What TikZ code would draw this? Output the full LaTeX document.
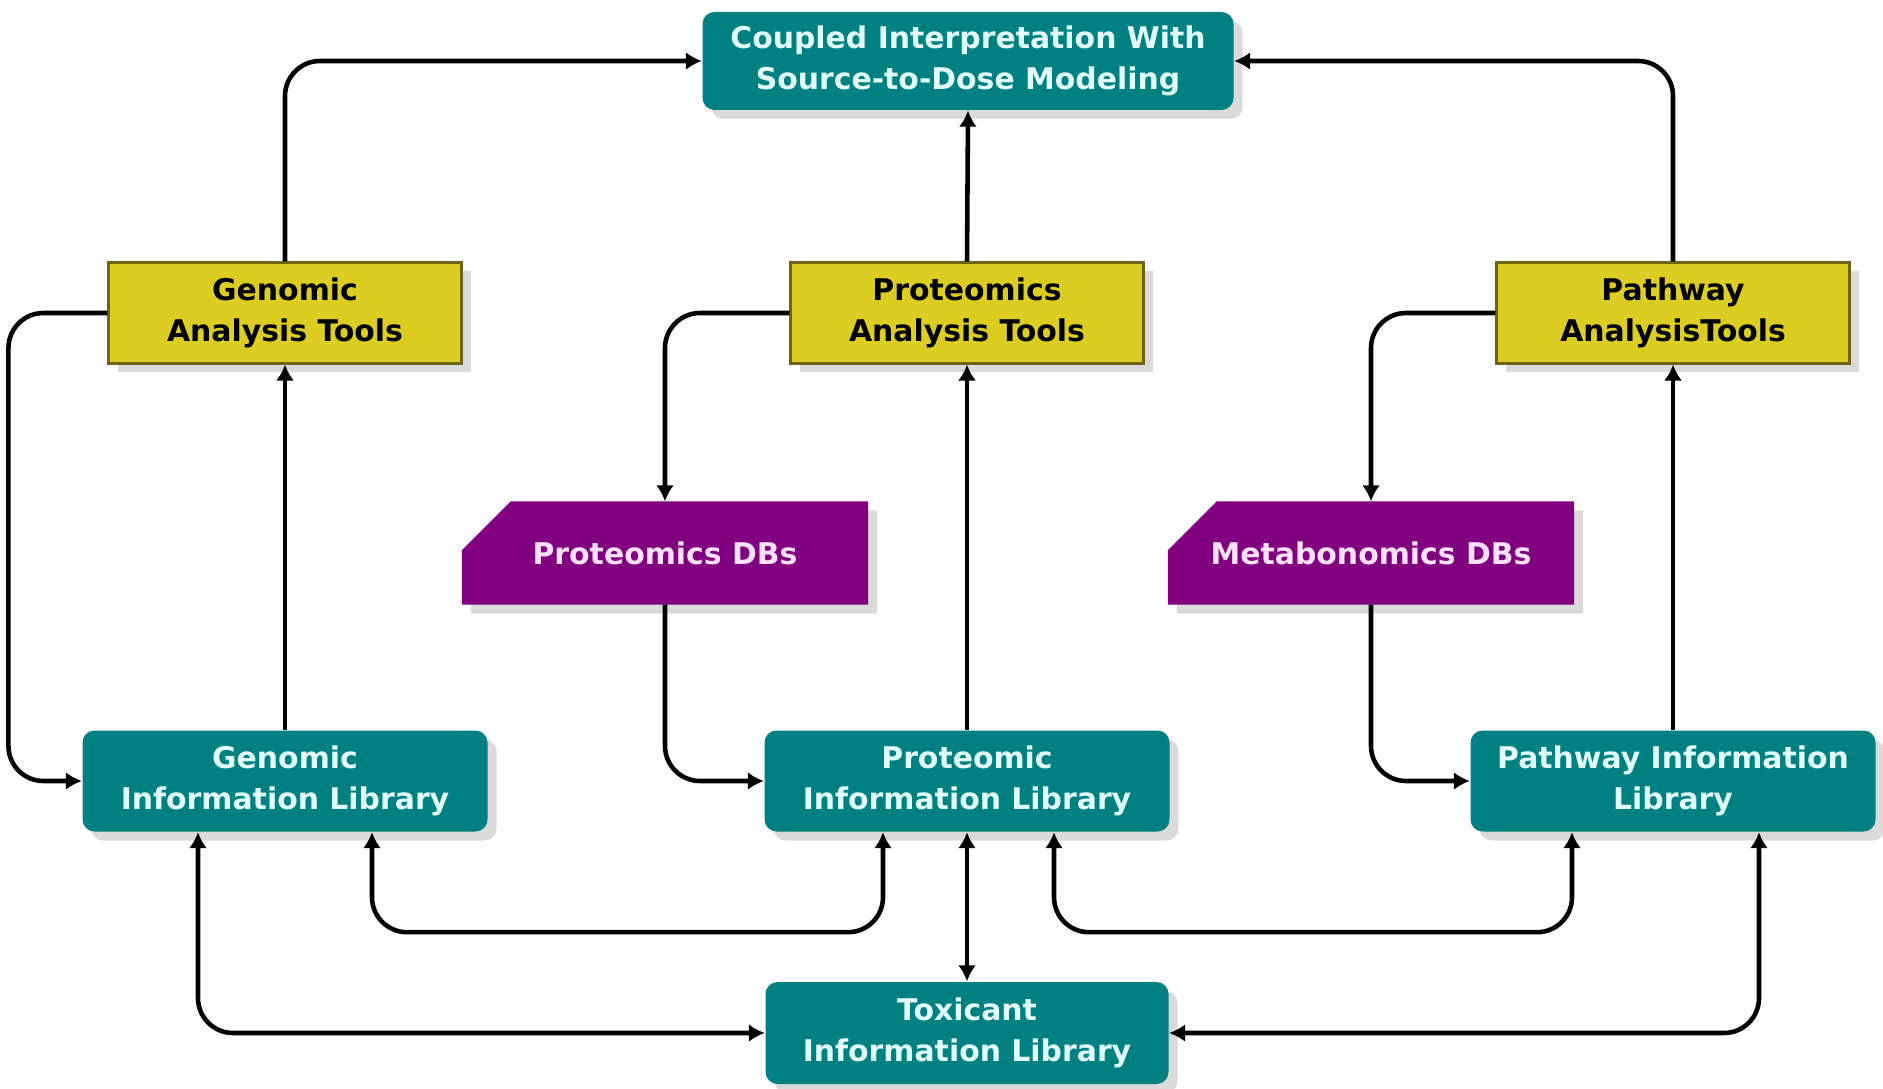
\documentclass[tikz,border=0pt]{standalone}
\usepackage{fontspec}
\setmainfont{DejaVu Sans}
\usepackage{tikz}
\usetikzlibrary{arrows.meta, shadows, backgrounds}
\definecolor{libteal}{RGB}{0, 128, 128}
\definecolor{libtext}{RGB}{225, 255, 255}
\definecolor{toolyellow}{RGB}{220, 205, 35}
\definecolor{tooledge}{RGB}{110, 100, 20}
\definecolor{dbpurple}{RGB}{128, 0, 128}
\definecolor{dbtext}{RGB}{255, 225, 255}
\definecolor{shadowgray}{RGB}{218, 218, 218}

\begin{document}
\begin{tikzpicture}[
    lib/.style={fill=libteal, text=libtext, minimum width=4.05cm, minimum height=1.01cm, align=center, font=\fontsize{8.5}{11.6}\selectfont\bfseries, rounded corners=1.2mm, drop shadow={shadow xshift=0.9mm, shadow yshift=-0.9mm, fill=shadowgray, opacity=1}},
    tool/.style={draw=tooledge, line width=0.6pt, fill=toolyellow, text=black, minimum width=3.53cm, minimum height=1.01cm, align=center, font=\fontsize{8.5}{11.6}\selectfont\bfseries, drop shadow={shadow xshift=0.9mm, shadow yshift=-0.9mm, fill=shadowgray, opacity=1}},
    dbase/.style={text=dbtext, minimum width=4.05cm, minimum height=1.02cm, align=center, font=\fontsize{8.5}{11.6}\selectfont\bfseries},
    arr/.style={-{Latex[length=1.6mm, width=1.8mm]}, line width=1.3pt, rounded corners=3.5mm},
    dbl/.style={{Latex[length=1.6mm, width=1.8mm]}-{Latex[length=1.6mm, width=1.8mm]}, line width=1.3pt, rounded corners=3.5mm}
]
    \useasboundingbox (0, 0) rectangle (18.83, 10.88);

    % Top
    \node[lib, minimum width=5.31cm, minimum height=0.98cm] (couple) at (9.68, 10.27) {Coupled Interpretation With\\Source-to-Dose Modeling};

    % Analysis tools
    \node[tool] (gtool) at (2.85, 7.75) {Genomic\\Analysis Tools};
    \node[tool] (ptool) at (9.67, 7.75) {Proteomics\\Analysis Tools};
    \node[tool] (wtool) at (16.73, 7.75) {Pathway\\AnalysisTools};

    % Databases (cut corner drawn behind)
    \node[dbase] (pdb) at (6.65, 5.35) {Proteomics DBs};
    \node[dbase] (mdb) at (13.71, 5.35) {Metabonomics DBs};
    \begin{scope}[on background layer]
        \foreach \db in {pdb, mdb} {
            \fill[shadowgray] ([shift={(0.09, -0.09)}]\db.south west) -- ([shift={(0.09, -0.09)}]\db.south east) -- ([shift={(0.09, -0.09)}]\db.north east) -- ([shift={(0.58, -0.09)}]\db.north west) -- ([shift={(0.09, -0.58)}]\db.north west) -- cycle;
            \fill[dbpurple] (\db.south west) -- (\db.south east) -- (\db.north east) -- ([xshift=0.49cm]\db.north west) -- ([yshift=-0.49cm]\db.north west) -- cycle;
        }
    \end{scope}

    % Information libraries
    \node[lib] (glib) at (2.85, 3.07) {Genomic\\Information Library};
    \node[lib] (plib) at (9.67, 3.07) {Proteomic\\Information Library};
    \node[lib] (wlib) at (16.73, 3.07) {Pathway Information\\Library};
    \node[lib, minimum width=4.03cm, minimum height=1.02cm] (tlib) at (9.67, 0.55) {Toxicant\\Information Library};

    % Tools to top
    \draw[arr] (gtool.north) |- (couple.west);
    \draw[arr] (wtool.north) |- (couple.east);
    \draw[arr] (ptool.north) -- (couple.south);

    % Libraries to tools
    \draw[arr] (glib.north) -- (gtool.south);
    \draw[arr] (plib.north) -- (ptool.south);
    \draw[arr] (wlib.north) -- (wtool.south);

    % Side loops
    \draw[arr] (gtool.west) -- ++(-0.99, 0) |- (glib.west);
    \draw[arr] (ptool.west) -| (pdb.north);
    \draw[arr] (pdb.south) |- (plib.west);
    \draw[arr] (wtool.west) -| (mdb.north);
    \draw[arr] (mdb.south) |- (wlib.west);

    % Library exchange
    \draw[dbl] ([xshift=0.87cm]glib.south) -- ++(0, -1.0) -| ([xshift=-0.84cm]plib.south);
    \draw[dbl] ([xshift=0.87cm]plib.south) -- ++(0, -1.0) -| ([xshift=-1.01cm]wlib.south);
    \draw[dbl] (plib.south) -- (tlib.north);
    \draw[dbl] ([xshift=-0.87cm]glib.south) |- (tlib.west);
    \draw[dbl] ([xshift=0.86cm]wlib.south) |- (tlib.east);
\end{tikzpicture}
\end{document}
